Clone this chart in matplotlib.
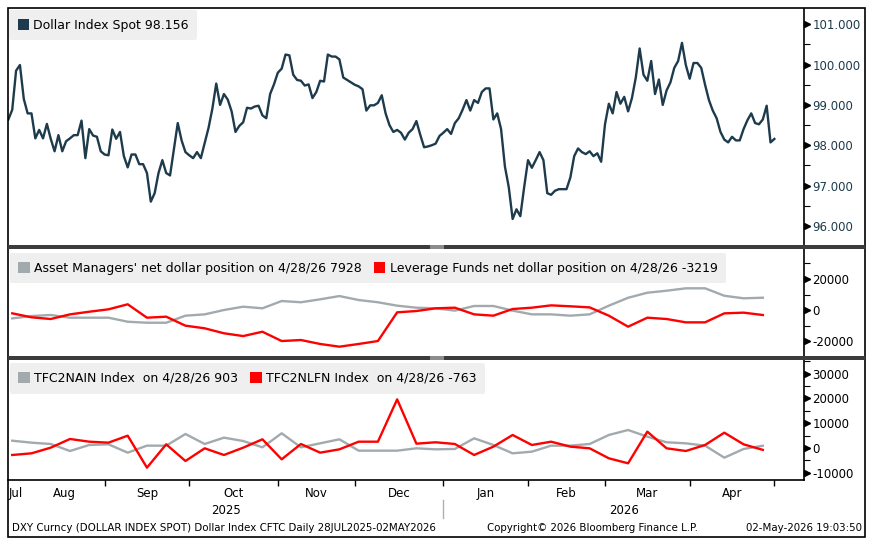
import numpy as np
import pandas as pd
import matplotlib
matplotlib.use('Agg')
import matplotlib.pyplot as plt
from matplotlib.patches import Patch, Rectangle
from matplotlib.transforms import offset_copy

plt.rcParams['font.family'] = ['DejaVu Sans']
plt.rcParams['axes.unicode_minus'] = False

# daily Dollar Index spot, business days 28 Jul 2025 - 01 May 2026
dates = pd.bdate_range('2025-07-28', '2026-05-01')
dxy = [98.64, 98.88, 99.85, 99.99, 99.15, 98.79, 98.79, 98.17, 98.38, 98.17,
       98.53, 98.16, 97.85, 98.25, 97.85, 98.10, 98.17, 98.25, 98.25, 98.61,
       97.68, 98.40, 98.24, 98.21, 97.85, 97.77, 97.75, 98.39, 98.16, 98.33,
       97.73, 97.45, 97.77, 97.77, 97.53, 97.53, 97.31, 96.60, 96.81, 97.31,
       97.63, 97.31, 97.25, 97.90, 98.55, 98.12, 97.83, 97.75, 97.68, 97.83,
       97.68, 98.05, 98.43, 98.91, 99.53, 99.00, 99.27, 99.13, 98.84, 98.33,
       98.48, 98.57, 98.93, 98.91, 98.96, 98.98, 98.74, 98.67, 99.27, 99.51,
       99.80, 99.90, 100.25, 100.23, 99.75, 99.62, 99.60, 99.48, 99.51, 99.17,
       99.32, 99.60, 99.58, 100.25, 100.20, 100.20, 100.13, 99.68, 99.62, 99.56,
       99.50, 99.46, 99.39, 98.86, 98.99, 98.99, 99.05, 99.24, 98.79, 98.50,
       98.33, 98.38, 98.31, 98.14, 98.31, 98.40, 98.60, 98.26, 97.95, 97.97,
       98.00, 98.04, 98.23, 98.31, 98.40, 98.28, 98.55, 98.67, 98.88, 99.12,
       98.86, 99.12, 99.05, 99.32, 99.41, 99.41, 98.64, 98.79, 98.40, 97.47,
       96.96, 96.17, 96.41, 96.24, 96.96, 97.63, 97.44, 97.63, 97.83, 97.63,
       96.81, 96.77, 96.87, 96.91, 96.91, 96.91, 97.20, 97.73, 97.92, 97.83,
       97.78, 97.85, 97.73, 97.80, 97.59, 98.52, 99.03, 98.79, 99.32, 99.03,
       99.20, 98.84, 99.17, 99.68, 100.40, 99.75, 99.60, 100.09, 99.27, 99.63,
       99.00, 99.36, 99.56, 99.92, 100.09, 100.54, 99.99, 99.65, 100.04, 100.04,
       99.92, 99.50, 99.12, 98.86, 98.67, 98.33, 98.14, 98.07, 98.21, 98.12,
       98.12, 98.40, 98.62, 98.79, 98.55, 98.52, 98.64, 98.98, 98.07, 98.156]

# weekly CFTC data (Tuesdays)
weeks = pd.date_range('2025-07-29', '2026-04-28', freq='7D')
am_net = [-5400, -3870, -3200, -4950, -4950, -4950, -7550, -8200, -8200, -3650,
          -2800, 0, 2150, 1100, 5800, 5000, 6900, 9000, 6450, 5000,
          2800, 1500, 1100, -400, 2600, 2600, -400, -2800, -2800, -3650,
          -2800, 2800, 7900, 11150, 12450, 14000, 14000, 9200, 7550, 7928]
lf_net = [-2130, -4700, -5800, -2800, -1100, 450, 3700, -4950, -4300, -10100,
          -11800, -15000, -16800, -14000, -20000, -19350, -21900, -23650, -21900, -20000,
          -1500, -650, 1100, 1500, -2800, -3650, 650, 1500, 3000, 2400,
          1700, -3650, -10750, -4950, -5800, -7950, -7950, -2150, -1700, -3219]
nain = [2940, 2150, 1610, -1210, 1210, 1480, -1880, 940, 940, 5640,
        1610, 4160, 2820, 270, 5920, 270, 1880, 3500, -1080, -1080,
        -1080, -130, -540, -400, 3900, 1210, -2150, -1480, 940, 940,
        1610, 5240, 7250, 4560, 2300, 1880, 940, -3900, -400, 903]
nlfn = [-2820, -2150, 130, 3630, 2540, 2150, 4960, -7930, 1480, -5240,
        -130, -2820, 130, 3500, -4560, 1610, -1880, -540, 2540, 2540,
        19600, 1750, 2300, 1610, -2820, 540, 5240, 1210, 2540, 540,
        -130, -4160, -6170, 6580, -130, -1210, 1210, 6170, 1480, -763]

month_names = ['Jul', 'Aug', 'Sep', 'Oct', 'Nov', 'Dec', 'Jan', 'Feb', 'Mar', 'Apr']

navy = '#1d3b4c'
gray = '#a2aaae'
red = '#ff0000'

x = np.arange(len(dates))
xw = dates.get_indexer(weeks)

W, H = 873, 538
def box(l, t, r, b):
    return [l / W, 1 - b / H, (r - l) / W, (b - t) / H]

fig = plt.figure(figsize=(W / 100, H / 100), dpi=100)
ax0 = fig.add_axes(box(8, 9, 804, 246))
ax1 = fig.add_axes(box(8, 249, 804, 357))
ax2 = fig.add_axes(box(8, 360, 804, 480))

ax0.plot(x, dxy, color=navy, lw=1.7, solid_joinstyle='round')
ax1.plot(xw, am_net, color=gray, lw=1.7)
ax1.plot(xw, lf_net, color=red, lw=1.7)
ax2.plot(xw, nain, color=gray, lw=1.7)
ax2.plot(xw, nlfn, color=red, lw=1.7)

ax0.set_ylim(95.69, 101.38)
ax1.set_ylim(-30300, 39350)
ax2.set_ylim(-12900, 35460)

major = {ax0: np.arange(96, 101.5, 1), ax1: [-20000, 0, 20000], ax2: np.arange(-10000, 30001, 10000)}
minor = {ax0: np.arange(95.5, 101.2, 1), ax1: [-30000, -10000, 10000, 30000], ax2: np.arange(-5000, 35001, 10000)}

for ax in [ax0, ax1, ax2]:
    ax.set_xlim(-0.1, 206.7)
    for s in ['left', 'top', 'bottom']:
        ax.spines[s].set_visible(False)
    ax.spines['right'].set_linewidth(1.2)
    ax.yaxis.tick_right()
    ax.set_yticks(major[ax])
    ax.set_yticks(minor[ax], minor=True)
    ax.tick_params(axis='y', which='major', length=4, width=1, pad=2, labelsize=8.5)
    ax.tick_params(axis='y', which='minor', length=4, width=0.8)
    tr = offset_copy(ax.get_yaxis_transform(), fig=fig, x=3, y=0, units='dots')
    ax.plot(np.ones(len(major[ax])), major[ax], ls='none', marker='>', ms=5,
            color='black', transform=tr, clip_on=False)

ax0.set_yticklabels(['%.3f' % v for v in major[ax0]], color=navy)
ax0.set_xticks([])
ax1.set_xticks([])

# month axis on bottom panel
starts = [i for i in range(1, len(dates)) if dates[i].month != dates[i - 1].month]
edges = [0] + starts
centers = [(edges[i] + edges[i + 1]) / 2 for i in range(len(month_names))]
ax2.spines['bottom'].set_visible(True)
ax2.spines['bottom'].set_linewidth(1.2)
ax2.set_xticks(starts[1:])
ax2.set_xticklabels([])
ax2.tick_params(axis='x', which='major', length=4, width=1, direction='out')
ax2.set_xticks(centers, minor=True)
ax2.set_xticklabels(month_names, minor=True, fontsize=8.5)
ax2.tick_params(axis='x', which='minor', length=0, pad=5)

jan = starts[5]
ax2.text(jan / 2, -0.25, '2025', transform=ax2.get_xaxis_transform(), ha='center', va='center', fontsize=8.5)
ax2.text((jan + 206.7) / 2, -0.25, '2026', transform=ax2.get_xaxis_transform(), ha='center', va='center', fontsize=8.5)
ax2.plot([jan, jan], [-0.17, -0.32], color='#b0b0b0', lw=1, transform=ax2.get_xaxis_transform(), clip_on=False)

# legends
def legend(ax, colors, labels, anchor):
    hs = [Patch(fc=c, ec='none') for c in colors]
    leg = ax.legend(hs, labels, loc='upper left', bbox_to_anchor=anchor, ncol=len(hs),
                    frameon=True, fancybox=True, facecolor='#efefef', edgecolor='none',
                    framealpha=1, fontsize=9, handlelength=0.9, handleheight=1.0,
                    handletextpad=0.35, columnspacing=1.0, borderpad=0.7, borderaxespad=0)
    leg.get_frame().set_linewidth(0)

legend(ax0, [navy], ['Dollar Index Spot %.3f' % dxy[-1]], (0.001, 0.996))
legend(ax1, [gray, red], ["Asset Managers' net dollar position on 4/28/26 %d" % am_net[-1],
                          'Leverage Funds net dollar position on 4/28/26 %d' % lf_net[-1]], (0.002, 0.963))
legend(ax2, [gray, red], ['TFC2NAIN Index  on 4/28/26 %d' % nain[-1],
                          'TFC2NLFN Index  on 4/28/26 %d' % nlfn[-1]], (0.002, 0.975))

# frame, separators, footer
fig.patches.append(Rectangle((8 / W, 1 - 537 / H), 857 / W, 529 / H, transform=fig.transFigure,
                             fill=False, ec='black', lw=1.2))
for top in [245, 356]:
    fig.patches.append(Rectangle((8 / W, 1 - (top + 4) / H), 857 / W, 4 / H, transform=fig.transFigure,
                                 fc='#3c3c3c', ec='none'))
    fig.patches.append(Rectangle((430 / W, 1 - (top + 4) / H), 14 / W, 4 / H, transform=fig.transFigure,
                                 fc='#8c8c8c', ec='none'))

fy = 1 - 528 / H
fig.text(12 / W, fy, 'DXY Curncy (DOLLAR INDEX SPOT) Dollar Index CFTC Daily 28JUL2025-02MAY2026',
         fontsize=7.4, va='center', ha='left')
fig.text(487 / W, fy, 'Copyright\u00a9 2026 Bloomberg Finance L.P.', fontsize=7.4, va='center', ha='left')
fig.text(862 / W, fy, '02-May-2026 19:03:50', fontsize=7.4, va='center', ha='right')

fig.savefig('out.png', dpi=100)
